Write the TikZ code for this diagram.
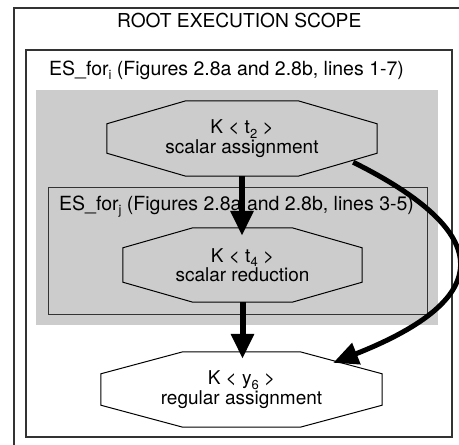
\documentclass[tikz,border=0pt]{standalone}
\usepackage{fontspec}
\setmainfont{TeX Gyre Heros}
\usetikzlibrary{arrows.meta,calc}

% lowered, smaller index letter set in the text font
\newcommand\lowsub[1]{\raisebox{-0.25em}{\fontsize{13}{13}\selectfont #1}}

\tikzset{
  scopebox/.style={draw=black!80, line width=1.3pt},
  scopetext/.style={font=\fontsize{19.5}{19.5}\selectfont, inner sep=0pt, anchor=base west},
  kernel/.style={font=\fontsize{19}{19.5}\selectfont, inner sep=0pt, align=center},
  octaline/.style={draw=black, line width=1pt},
  flow/.style={line width=6pt, -{Triangle[width=22pt,length=25pt]}},
  dep/.style={line width=5pt, -{Triangle[width=22pt,length=25pt]}},
}

% octagon outline around a rectangular node: #1 node, #2 horizontal inset, #3 vertical inset
\newcommand\octagon[3]{%
  \draw[octaline]
    ($(#1.north west)+(#2,0)$) -- ($(#1.north east)+(-#2,0)$) --
    ($(#1.north east)+(0,#3)$) -- ($(#1.south east)+(0,-#3)$) --
    ($(#1.south east)+(-#2,0)$) -- ($(#1.south west)+(#2,0)$) --
    ($(#1.south west)+(0,-#3)$) -- ($(#1.north west)+(0,#3)$) -- cycle;}

\begin{document}
\begin{tikzpicture}[x=1pt,y=-1pt]
  \useasboundingbox (0,0) rectangle (459,445);
  \clip (0,0) rectangle (459,445);
  \fill[white] (0,0) rectangle (459,445);

  % execution scopes
  \draw[scopebox] (14,8) rectangle (480,470);
  \draw[scopebox] (26,50) rectangle (452,437);
  \fill[black!20] (36,90) rectangle (438,325);
  \draw[draw=black!80, line width=1pt] (48,187) rectangle (427,314);

  \node[scopetext, font=\fontsize{19.2}{19.2}\selectfont] (rootlbl) at (117,27) {ROOT EXECUTION SCOPE};
  \node[scopetext] (esilbl) at (49,75) {ES\_for\lowsub{i} (Figures 2.8a and 2.8b, lines 1-7)};
  \node[scopetext] (esjlbl) at (59,210) {ES\_for\lowsub{j} (Figures 2.8a and 2.8b, lines 3-5)};

  % kernels
  \node[kernel, minimum width=270pt, minimum height=75pt] (t2) at (242,138.5)
    {K < t\lowsub{2} >\\scalar assignment};
  \node[kernel, minimum width=239pt, minimum height=74pt] (t4) at (242.5,265)
    {K < t\lowsub{4} >\\scalar reduction};
  \node[kernel, minimum width=281pt, minimum height=75pt] (y6) at (241.5,389.5)
    {K < y\lowsub{6} >\\regular assignment};

  \octagon{t2}{79}{23}
  \octagon{t4}{70}{20}
  \octagon{y6}{82}{22}

  % dependences
  \draw[flow, shorten >=-8pt] (t2.south) -- (t2.south |- t4.north);
  \draw[flow, shorten >=-7pt] (t4.south) -- (t4.south |- y6.north);
  \draw[dep] ($(t2.south east)+(-24,-14)$) .. controls (495,233) and (497,298) .. ($(y6.north east)+(-49,11)$);
\end{tikzpicture}
\end{document}
